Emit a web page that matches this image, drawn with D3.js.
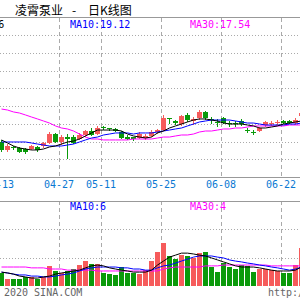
<!DOCTYPE html>
<html>
<head>
<meta charset="utf-8">
<script src="https://cdn.jsdelivr.net/npm/d3@7"></script>
<style>
  body { margin: 0; background: #fff; }
  svg { display: block; }
</style>
</head>
<body>
<div id="kline"></div>
<script>
// trading days shown (2020)
var dates = ["04-13","04-14","04-15","04-16","04-17","04-20","04-21","04-22","04-23","04-24",
  "04-27","04-28","04-29","04-30","05-06","05-07","05-08","05-11","05-12","05-13",
  "05-14","05-15","05-18","05-19","05-20","05-21","05-22","05-25","05-26","05-27",
  "05-28","05-29","06-01","06-02","06-03","06-04","06-05","06-08","06-09","06-10",
  "06-11","06-12","06-15","06-16","06-17","06-18","06-19","06-22","06-23","06-24","06-29"];
var tickDates = ["04-13","04-27","05-11","05-25","06-08","06-22"];

var open  = [16.95,16.05,16.33,16.27,16.16,16.16,16.39,16.50,16.84,17.85, 16.95,17.51,17.51,17.29,17.74,18.19,17.85,18.64,18.53,18.42,
  18.08,17.51,17.46,17.40,17.40,17.63,18.08,18.30,19.66,19.32, 18.98,20.00,19.32,19.66,20.34,19.49,19.26,19.66,19.15,19.15,
  19.32,18.36,18.13,18.19,18.87,19.04,19.15,19.32,19.32,19.09, 19.88];
var close = [16.05,16.50,16.22,15.82,15.82,16.50,16.05,16.84,17.85,16.95, 17.51,17.29,16.84,17.74,18.19,17.74,18.53,18.53,18.42,18.19,
  17.40,17.29,17.23,17.85,17.63,18.08,18.30,19.66,19.55,19.09, 19.88,19.43,19.55,20.34,19.66,19.38,19.15,19.09,19.04,19.04,
  18.98,18.25,18.02,18.53,19.21,19.15,19.26,19.09,19.09,19.43, 20.22];
var high  = [17.18,16.72,16.50,16.39,16.27,16.61,16.50,16.95,18.08,17.97, 17.74,17.85,17.74,17.97,18.30,18.53,18.76,18.76,18.53,18.53,
  18.19,17.74,17.51,18.08,17.85,18.30,18.42,20.00,19.66,19.43, 20.00,20.22,19.77,20.56,20.45,19.77,19.55,19.77,19.32,19.32,
  19.55,18.53,18.30,18.64,19.32,19.32,19.43,19.43,19.43,19.66, 20.34];
var low   = [15.82,15.82,16.05,15.71,15.60,16.05,15.82,16.27,16.72,16.84, 16.61,15.03,16.72,17.18,17.51,17.63,17.74,18.30,18.19,18.08,
  17.29,17.18,17.06,17.29,17.18,17.51,17.85,18.19,18.98,18.87, 18.76,19.21,18.87,19.43,19.43,18.98,18.64,18.98,18.64,18.64,
  18.76,17.97,17.74,18.08,18.64,18.76,18.87,18.98,18.98,18.87, 19.77];

var ma5  = [17.18,16.84,16.50,16.27,16.16,16.05,16.05,16.16,16.39,16.50, 16.72,16.95,17.06,17.29,17.63,17.97,18.30,18.30,18.30,18.30,
  18.19,17.85,17.63,17.51,17.40,17.51,17.97,18.19,18.53,18.76, 18.98,19.21,19.43,19.55,19.55,19.43,19.32,19.09,18.98,18.98,
  18.98,18.87,18.76,18.53,18.53,18.64,18.76,18.98,19.09,19.21, 19.32];
var ma10 = [16.95,16.95,16.95,16.95,16.95,16.84,16.72,16.61,16.50,16.50, 16.50,16.61,16.72,16.95,17.18,17.40,17.51,17.74,17.85,17.97,
  17.97,17.97,17.85,17.97,17.97,17.97,18.08,18.19,18.30,18.42, 18.53,18.76,18.98,19.21,19.32,19.43,19.43,19.43,19.43,19.32,
  19.21,19.09,19.09,18.98,18.87,18.87,18.87,18.87,18.98,18.98, 19.09];
var ma30 = [20.67,20.56,20.34,20.22,20.00,19.77,19.55,19.32,19.09,18.76, 18.53,18.42,18.19,17.85,17.51,17.29,17.29,17.18,17.18,17.18,
  17.18,17.18,17.29,17.29,17.29,17.29,17.40,17.51,17.51,17.63, 17.74,17.74,17.85,18.08,18.19,18.19,18.30,18.42,18.42,18.53,
  18.53,18.64,18.76,18.76,18.76,18.76,18.76,18.76,18.87,18.87, 18.87];

var volume  = [4.6,2.5,2.5,2.5,3.2,3.2,2.5,3.2,7.1,5.3, 4.6,5.3,6.0,7.4,8.8,7.8,7.8,4.6,4.2,3.9,
  6.7,4.6,4.6,4.2,5.6,8.8,12.0,15.2,10.6,9.5, 10.9,10.6,9.9,11.6,12.0,6.7,4.9,8.1,6.7,6.0,
  7.4,7.1,4.9,6.0,6.0,5.6,5.3,4.6,4.6,7.4, 13.4];
var volMa5  = [4.9,4.6,4.2,3.5,3.2,2.8,2.8,3.2,3.5,4.2, 4.6,4.9,5.3,5.6,6.4,7.1,7.4,7.1,6.4,6.0,
  5.6,5.3,4.9,4.9,4.9,5.6,7.4,8.8,10.2,10.9, 11.6,11.6,11.3,10.9,10.6,9.9,9.2,8.5,7.8,7.1,
  6.7,6.7,6.7,6.4,6.0,5.6,5.3,5.3,5.3,5.6, 6.7];
var volMa10 = [4.9,4.6,4.2,3.9,3.9,3.5,3.5,3.2,3.2,3.5, 3.9,4.2,4.6,5.3,6.0,6.4,6.7,6.7,6.7,6.7,
  6.4,6.4,6.0,6.0,5.6,5.6,6.4,7.1,7.4,8.1, 8.8,9.5,10.2,10.6,10.6,10.6,10.2,9.9,9.2,8.8,
  8.5,8.1,7.8,7.4,7.1,6.7,6.4,6.0,5.6,6.0, 6.7];
var volMa30 = [6.7,6.7,6.7,6.7,6.7,6.4,6.4,6.4,6.0,6.0, 6.0,5.6,5.6,5.6,5.6,5.6,5.3,5.3,5.3,5.3,
  5.3,5.3,5.3,5.3,5.3,5.3,5.3,6.0,6.4,6.7, 6.7,6.7,6.7,6.7,7.1,7.1,7.1,7.4,7.4,7.4,
  7.4,7.4,7.4,7.4,7.4,7.1,7.1,7.1,7.1,7.1, 7.1];

var priceTicks = [15,17,19,21,23,25,27,29];
var volTicks = [10,20];

var priceLabels = [["MA5:19.16", "#000"], ["MA10:19.12", "#0000ff"], ["MA30:17.54", "#ff00ff"]];
var volLabels = [["MA5:7", "#000"], ["MA10:6", "#0000ff"], ["MA30:4", "#ff00ff"]];

var width = 300, height = 300;
var RED = "#f65b5b", GREEN = "#0a9a0a";
var MONO = "'DejaVu Sans Mono', monospace";

var svg = d3.select("#kline").append("svg")
    .attr("width", width)
    .attr("height", height);

var x = d3.scalePoint()
    .domain(dates)
    .range([1, 301]);

var y = d3.scaleLinear()
    .domain([13, 31])
    .range([177, 17.5]);

var yv = d3.scaleLinear()
    .domain([0, 30])
    .range([286, 201]);

var px = function(d) { return Math.round(x(d)); };

// title, dash spaced wide like the original
var title = svg.append("text")
    .attr("y", 15)
    .style("font-family", "'Noto Sans CJK SC', sans-serif")
    .style("font-size", "12px")
    .attr("fill", "#000");
title.append("tspan").attr("x", 15).text("凌霄泵业");
title.append("tspan").attr("x", 72).text("-");
title.append("tspan").attr("x", 88).text("日K线图");

// horizontal dotted grids
svg.append("g")
    .selectAll("line")
    .data(priceTicks)
  .enter().append("line")
    .attr("x1", 0).attr("x2", width)
    .attr("y1", function(d) { return Math.round(y(d)) + 0.5; })
    .attr("y2", function(d) { return Math.round(y(d)) + 0.5; })
    .attr("stroke", "#aaa")
    .attr("stroke-dasharray", "1,2");

svg.append("g")
    .selectAll("line")
    .data(volTicks)
  .enter().append("line")
    .attr("x1", 0).attr("x2", width)
    .attr("y1", function(d) { return Math.round(yv(d)) + 0.5; })
    .attr("y2", function(d) { return Math.round(yv(d)) + 0.5; })
    .attr("stroke", "#aaa")
    .attr("stroke-dasharray", "1,2");

// vertical dashed grids at tick dates
[[18, 177], [201, 286]].forEach(function(r) {
  svg.append("g")
      .selectAll("line")
      .data(tickDates)
    .enter().append("line")
      .attr("x1", function(d) { return px(d) - 2 + 0.5; })
      .attr("x2", function(d) { return px(d) - 2 + 0.5; })
      .attr("y1", r[0]).attr("y2", r[1])
      .attr("stroke", "#aaa")
      .attr("stroke-dasharray", "4,3");
});

// panel borders
[17.5, 177.5, 201.5].forEach(function(yy) {
  svg.append("line")
      .attr("x1", 0).attr("x2", width)
      .attr("y1", yy).attr("y2", yy)
      .attr("stroke", "#999");
});

// date labels
svg.append("g")
    .selectAll("text")
    .data(tickDates)
  .enter().append("text")
    .attr("x", function(d) { return px(d) - 2; })
    .attr("y", 188)
    .attr("text-anchor", "middle")
    .style("font-family", MONO)
    .style("font-size", "10px")
    .attr("fill", "#0a78d2")
    .text(function(d) { return d; });

// candles
var idx = d3.range(dates.length);
var candle = svg.append("g").attr("shape-rendering", "crispEdges");

candle.selectAll(".wick")
    .data(idx)
  .enter().append("line")
    .attr("class", "wick")
    .attr("x1", function(i) { return px(dates[i]) + 0.5; })
    .attr("x2", function(i) { return px(dates[i]) + 0.5; })
    .attr("y1", function(i) { return y(high[i]); })
    .attr("y2", function(i) { return y(low[i]); })
    .attr("stroke", function(i) { return close[i] >= open[i] ? RED : GREEN; });

candle.selectAll(".body")
    .data(idx)
  .enter().append("rect")
    .attr("class", "body")
    .attr("x", function(i) { return px(dates[i]) - 2; })
    .attr("width", 5)
    .attr("y", function(i) { return Math.round(y(Math.max(open[i], close[i]))); })
    .attr("height", function(i) { return Math.max(1, Math.round(Math.abs(y(open[i]) - y(close[i])))); })
    .attr("fill", function(i) { return close[i] >= open[i] ? RED : GREEN; });

// volume bars
svg.append("g").attr("shape-rendering", "crispEdges")
    .selectAll("rect")
    .data(idx)
  .enter().append("rect")
    .attr("x", function(i) { return px(dates[i]) - 2; })
    .attr("width", 5)
    .attr("y", function(i) { return Math.round(yv(volume[i])); })
    .attr("height", function(i) { return 286 - Math.round(yv(volume[i])); })
    .attr("fill", function(i) { return close[i] >= open[i] ? RED : GREEN; });

// moving average lines
function maLine(vals, scale, color) {
  var line = d3.line()
      .x(function(d, i) { return px(dates[i]) + 0.5; })
      .y(function(d) { return scale(d); });
  svg.append("path")
      .datum(vals)
      .attr("d", line)
      .attr("fill", "none")
      .attr("stroke", color)
      .attr("stroke-width", 1);
}
maLine(ma30, y, "#ff00ff");
maLine(ma10, y, "#0000ff");
maLine(ma5, y, "#000");
maLine(volMa30, yv, "#ff00ff");
maLine(volMa10, yv, "#0000ff");
maLine(volMa5, yv, "#000");

// MA legends
function legend(items, yy) {
  svg.append("g")
      .selectAll("text")
      .data(items)
    .enter().append("text")
      .attr("x", function(d, i) { return -50 + i * 120; })
      .attr("y", yy)
      .style("font-family", MONO)
      .style("font-size", "10px")
      .attr("fill", function(d) { return d[1]; })
      .text(function(d) { return d[0]; });
}
legend(priceLabels, 27.5);
legend(volLabels, 209.5);

// footer
svg.append("text")
    .attr("x", 4).attr("y", 296)
    .style("font-family", MONO)
    .style("font-size", "10px")
    .attr("fill", "#666")
    .text("2020 SINA.COM");

svg.append("text")
    .attr("x", 268).attr("y", 296)
    .style("font-family", MONO)
    .style("font-size", "10px")
    .attr("fill", "#666")
    .text("http://finance.sina.com.cn");
</script>
</body>
</html>
